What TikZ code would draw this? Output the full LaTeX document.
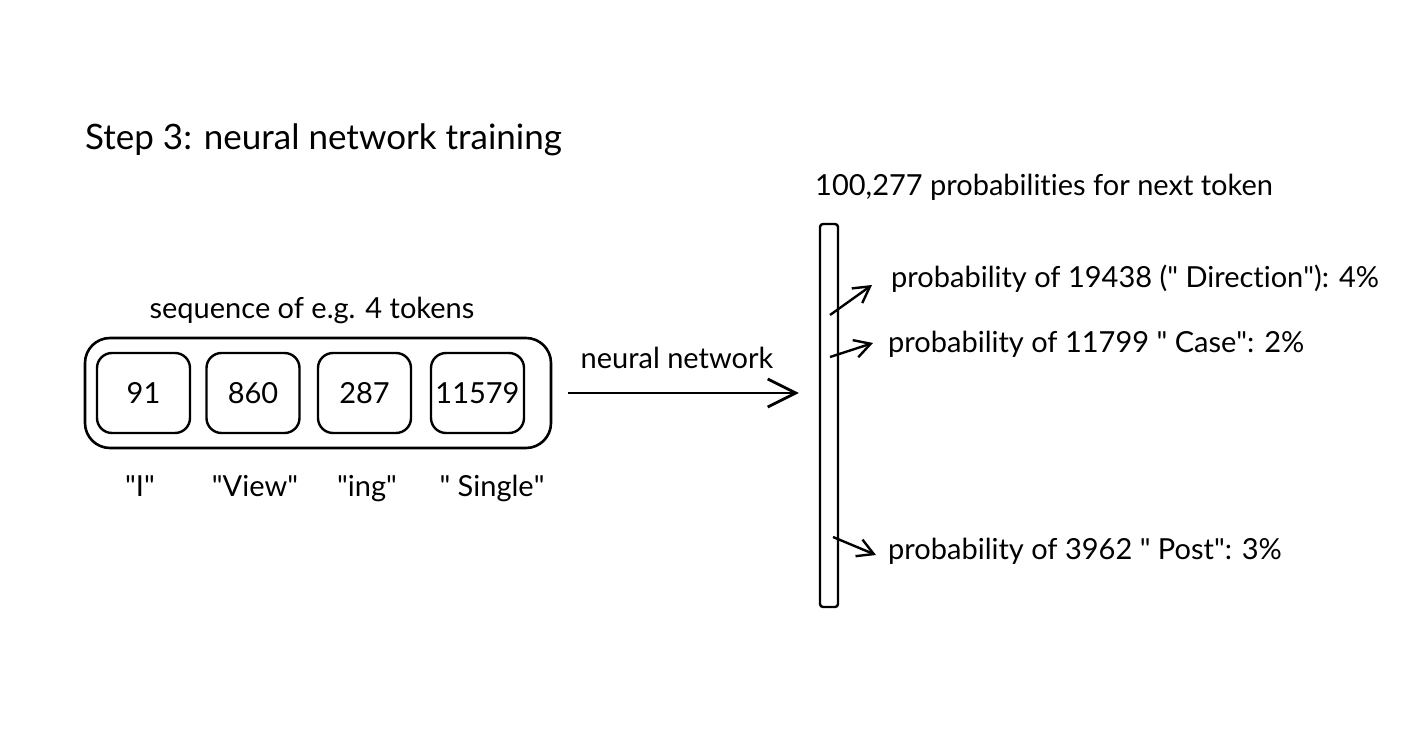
\documentclass[tikz,border=0pt]{standalone}
\usepackage{fontspec}
\setmainfont{Lato}[Ligatures={NoCommon}]
\newcommand\qd{\XeTeXglyph\XeTeXcharglyph34\relax}
\usetikzlibrary{arrows.meta,calc}
\begin{document}
\begin{tikzpicture}[x=1pt,y=-1pt,
  lbl/.style={inner sep=0pt,font=\fontsize{29}{33}\selectfont,text height=21pt,text depth=6pt},
  tok/.style={draw,line width=2.4pt,rounded corners=15pt,minimum width=93pt,minimum height=80pt,font=\fontsize{29}{33}\selectfont},
  arr/.style={line width=2.8pt,-{Straight Barb[length=28pt,width=28pt,line width=2.8pt]}},
  sarr/.style={line width=2.4pt,-{Straight Barb[length=16pt,width=18pt,line width=2.4pt]}}]
\useasboundingbox (0,0) rectangle (1412,738);
\node[anchor=west,inner sep=0pt,font=\fontsize{35}{40}\selectfont,text height=26pt,text depth=8pt] (title) at (85,141) {Step 3: neural network training};
\node[lbl] (seqlbl) at (312,311) {sequence of e.g. 4 tokens};
\node[draw,line width=2.6pt,rounded corners=25pt,minimum width=466pt,minimum height=110pt] (seq) at (318,393) {};
\node[tok] (t1) at (143.5,393) {91};
\node[tok] (t2) at (253,393) {860};
\node[tok] (t3) at (364.5,393) {287};
\node[tok] (t4) at (477.5,393) {11579};
\node[lbl] (w1) at (140,489) {\qd I\qd};
\node[lbl] (w2) at (255,489) {\qd View\qd};
\node[lbl] (w3) at (367,489) {\qd ing\qd};
\node[lbl] (w4) at (492,489) {\qd{} Single\qd};
\node[draw,line width=2.4pt,rounded corners=3pt,minimum width=18pt,minimum height=383pt,inner sep=0pt] (bar) at (829,415.5) {};
\node[lbl,anchor=west] (toplbl) at (815,188) {100,277 probabilities for next token};
\draw[arr,shorten <=16pt,shorten >=20pt] (seq.east) -- (bar.west |- seq.east);
\node[lbl] (nn) at (677,361) {neural network};
\node[lbl,anchor=west] (p1) at (891,280) {probability of 19438 (\qd{} Direction\qd): 4\%};
\node[lbl,anchor=west] (p2) at (888,345) {probability of 11799 \qd{} Case\qd: 2\%};
\node[lbl,anchor=west] (p3) at (888,552) {probability of 3962 \qd{} Post\qd: 3\%};
\coordinate (s1) at (830,315);
\coordinate (s2) at (830,357);
\coordinate (s3) at (833,537);
\draw[sarr] (s1) -- ([shift={(-19,5)}]p1.west);
\draw[sarr] (s2) -- ([shift={(-15,-2)}]p2.west);
\draw[sarr] (s3) -- ([shift={(-12,3)}]p3.west);
\end{tikzpicture}
\end{document}
